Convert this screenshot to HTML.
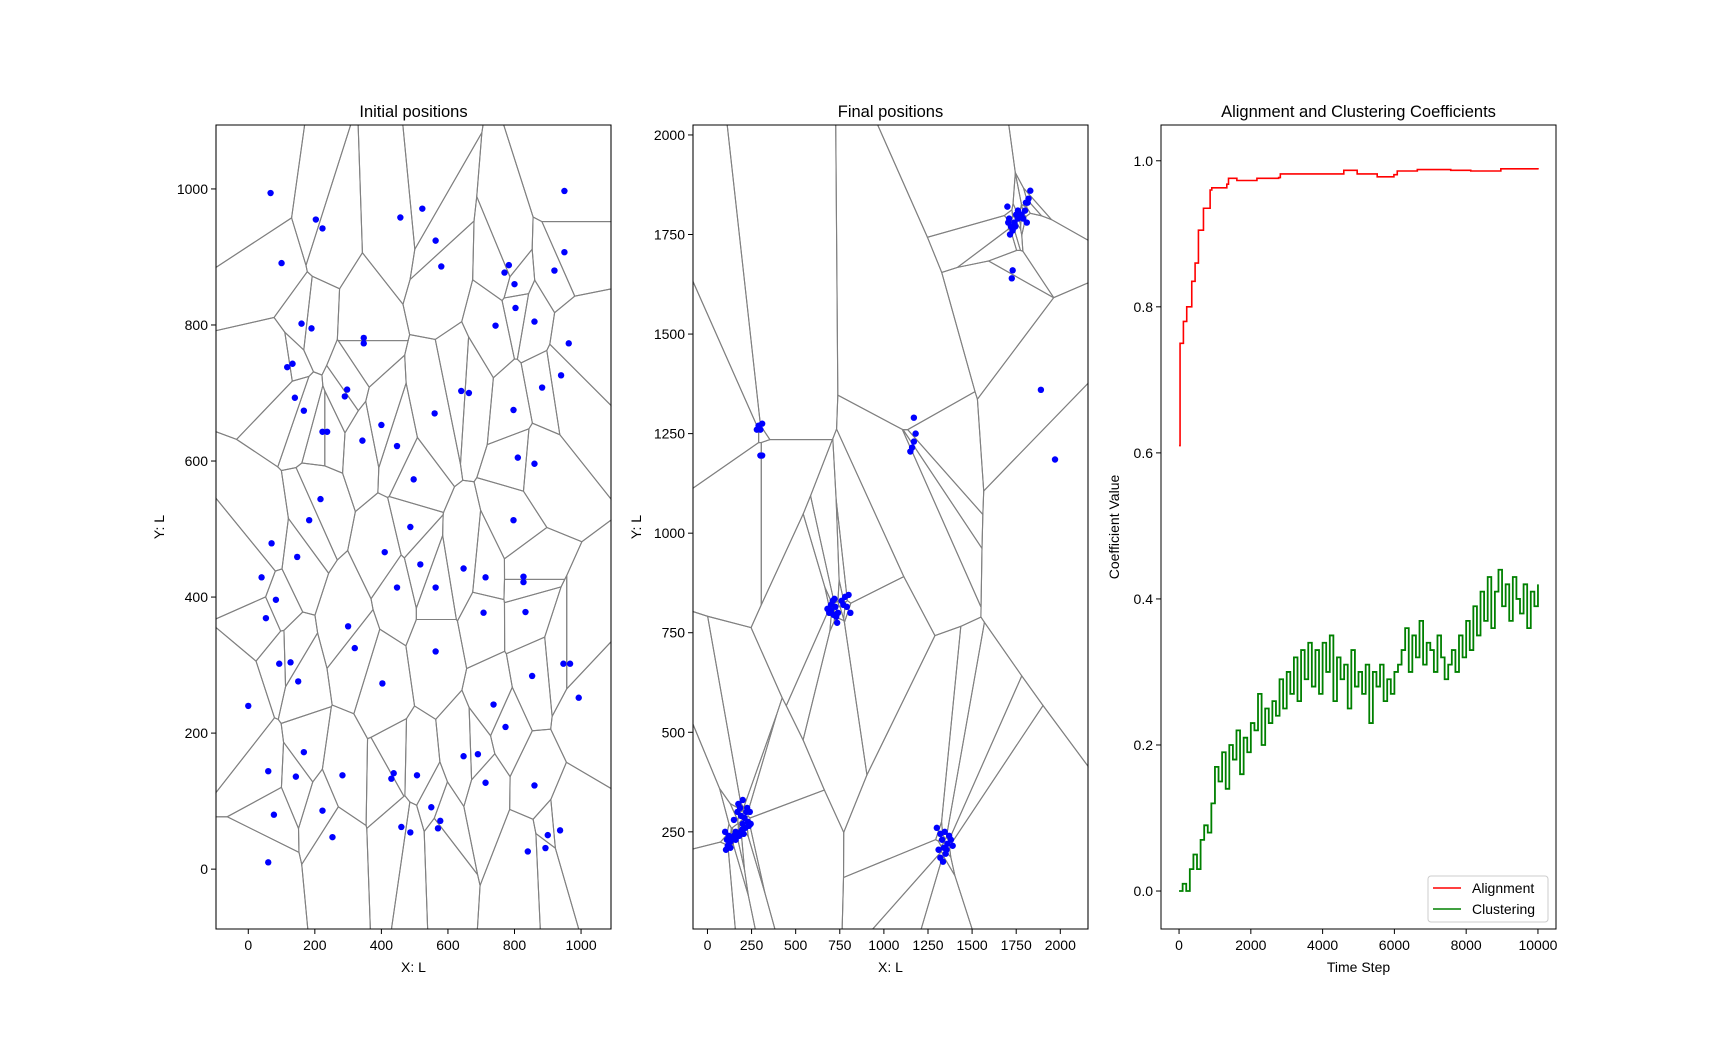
<!DOCTYPE html>
<html><head><meta charset="utf-8"><style>
html,body{margin:0;padding:0;background:#fff;overflow:hidden;width:1728px;height:1044px;}
svg{display:block;}
svg text{font-family:"Liberation Sans","DejaVu Sans",sans-serif;fill:#000;}
</style></head><body>
<svg id="fig" width="1728" height="1044" xmlns="http://www.w3.org/2000/svg"></svg>
<script>
// ---------- data ----------
const initialX=[67,203,223,457,523,563,580,950,950,100,783,770,800,920,160,190,347,347,803,743,860,963,133,117,940,297,290,140,167,640,663,560,797,883,400,343,447,223,237,810,860,497,217,183,797,487,70,147,410,517,647,713,827,827,447,563,40,83,707,833,53,300,320,93,127,150,563,403,853,947,967,993,0,737,773,60,167,143,283,437,430,507,647,690,713,860,77,223,253,460,487,550,577,570,937,900,893,840,60];
const initialY=[994,955,942,958,971,924,886,997,907,891,888,877,860,880,802,795,781,773,825,799,805,773,743,738,726,705,695,693,674,703,700,670,675,708,653,630,622,643,643,605,596,573,544,513,513,503,479,459,466,448,442,429,430,422,414,414,429,396,377,378,369,357,325,302,304,276,320,273,284,302,302,252,240,242,209,144,172,136,138,141,133,138,166,169,127,123,80,86,47,62,54,91,71,60,57,50,31,26,10];
const finalX=[100,110,115,105,120,130,140,150,160,170,175,185,190,200,195,205,210,220,225,230,235,200,180,160,130,215,240,245,190,150,
1300,1320,1330,1340,1310,1320,1335,1350,1360,1370,1380,1390,1345,1355,
680,690,700,710,720,730,735,740,700,760,780,800,790,810,770,725,715,
1700,1710,1720,1730,1715,1740,1750,1760,1770,1780,1790,1800,1805,1815,1830,1810,1760,1745,1725,1730,1705,1820,
290,300,310,280,300,310,1170,1180,1170,1160,1150,1890,1970];
const finalY=[250,230,215,205,240,225,235,280,250,300,320,310,290,270,255,245,285,300,310,275,265,330,240,230,210,260,300,270,250,240,
260,245,230,210,205,185,175,195,220,240,230,215,250,205,
810,800,820,830,835,790,775,800,805,830,840,845,815,800,820,815,795,
1820,1790,1770,1760,1750,1780,1800,1810,1795,1800,1790,1810,1830,1830,1860,1780,1790,1770,1640,1660,1780,1840,
1270,1260,1275,1260,1195,1195,1290,1250,1230,1215,1205,1360,1185];
const alignT=[0,28,121,214,354,447,540,680,866,912,1331,1378,1611,2170,2775,2822,3845,4590,4963,5521,5987,6080,6639,7570,8128,8966,10000];
const alignV=[0.61,0.75,0.78,0.80,0.835,0.86,0.905,0.935,0.96,0.963,0.968,0.976,0.973,0.976,0.977,0.982,0.982,0.987,0.982,0.978,0.981,0.986,0.988,0.987,0.986,0.989,0.988];
const clusterV=[0,0.01,0.0,0.03,0.05,0.03,0.07,0.09,0.08,0.12,0.17,
0.15,0.19,0.14,0.2,0.18,0.22,0.16,0.21,0.19,0.23,
0.22,0.27,0.2,0.25,0.23,0.26,0.24,0.29,0.25,0.30,
0.27,0.32,0.26,0.33,0.29,0.34,0.28,0.33,0.27,0.34,
0.30,0.35,0.26,0.32,0.29,0.31,0.25,0.33,0.28,0.30,
0.27,0.31,0.23,0.30,0.28,0.31,0.26,0.29,0.27,0.30,
0.31,0.33,0.36,0.30,0.35,0.32,0.37,0.31,0.34,0.33,
0.30,0.35,0.32,0.29,0.31,0.33,0.30,0.35,0.32,0.37,
0.33,0.39,0.35,0.41,0.37,0.43,0.36,0.41,0.44,0.39,
0.42,0.37,0.43,0.40,0.38,0.42,0.36,0.41,0.39,0.42];
const clusterStep=100;
const ticks1X=[0,200,400,600,800,1000], ticks1Y=[0,200,400,600,800,1000];
const ticks2X=[0,250,500,750,1000,1250,1500,1750,2000], ticks2Y=[250,500,750,1000,1250,1500,1750,2000];
const ticks3X=[0,2000,4000,6000,8000,10000], ticks3Y=[0,0.2,0.4,0.6,0.8,1.0];

// ---------- helpers ----------
const NS="http://www.w3.org/2000/svg", fig=document.getElementById('fig');
function mk(tag,attrs,parent,name,inter){const e=document.createElementNS(NS,tag);for(const k in attrs)e.setAttribute(k,attrs[k]);


(parent||fig).appendChild(e);return e;}
const TOP=125,BOT=929;
function axes(id,left,xl,yl){const right=left+395;
 return {id,left,right,xl,yl,sx:v=>left+(v-xl[0])/(xl[1]-xl[0])*395,sy:v=>BOT-(v-yl[0])/(yl[1]-yl[0])*(BOT-TOP)};}
function frame(a,title,xlab,ylab,tx,ty,fmt){
 const g=mk('g',{},fig,a.id+'-axes',false);
 mk('text',{x:(a.left+a.right)/2,y:117,'text-anchor':'middle','font-size':'16.5'},g,a.id+'-title',false).textContent=title;
 tx.forEach(t=>{const x=a.sx(t);mk('line',{x1:x,x2:x,y1:BOT,y2:BOT+5,stroke:'#000'},g,'x-tick',false);
  mk('text',{x:x,y:BOT+21,'text-anchor':'middle','font-size':'14'},g,'x-tick-label',false).textContent=fmt?fmt(t,'x'):t;});
 ty.forEach(t=>{const y=a.sy(t);mk('line',{x1:a.left-5,x2:a.left,y1:y,y2:y,stroke:'#000'},g,'y-tick',false);
  mk('text',{x:a.left-8,y:y+5,'text-anchor':'end','font-size':'14'},g,'y-tick-label',false).textContent=fmt?fmt(t,'y'):t;});
 mk('text',{x:(a.left+a.right)/2,y:972,'text-anchor':'middle','font-size':'14'},g,'x-axis-title',false).textContent=xlab;
 const lx=a.id==='coef'?a.left-42:a.left-52;
 mk('text',{x:lx,y:(TOP+BOT)/2,'text-anchor':'middle','font-size':'14',transform:`rotate(-90 ${lx} ${(TOP+BOT)/2})`},g,'y-axis-title',false).textContent=ylab;
 return g;}
function border(a){mk('rect',{x:a.left,y:TOP,width:a.right-a.left,height:BOT-TOP,fill:'none',stroke:'#000','stroke-width':1},fig,a.id+'-frame',false);}
function clipF(poly,f){const out=[];
 for(let i=0;i<poly.length;i++){const p=poly[i],q=poly[(i+1)%poly.length];const fp=f(p),fq=f(q);
  if(fp<=0)out.push(p);if((fp<0&&fq>0)||(fp>0&&fq<0)){const t=fp/(fp-fq);out.push([p[0]+t*(q[0]-p[0]),p[1]+t*(q[1]-p[1])]);}}
 return out;}
function clipPoly(poly,ax,ay,bx,by){const mx=(ax+bx)/2,my=(ay+by)/2,nx=bx-ax,ny=by-ay;
 return clipF(poly,p=>(p[0]-mx)*nx+(p[1]-my)*ny);}
function voronoi(a,X,Y){
 const g=mk('g',{},fig,a.id+'-voronoi',false);
 const [x0,x1]=a.xl,[y0,y1]=a.yl;
 for(let i=0;i<X.length;i++){let poly=[[x0,y0],[x1,y0],[x1,y1],[x0,y1]];
  for(let j=0;j<X.length&&poly.length;j++){if(j===i||(X[i]===X[j]&&Y[i]===Y[j]))continue;poly=clipPoly(poly,X[i],Y[i],X[j],Y[j]);}
  if(poly.length<3)continue;
  const pts=poly.map(p=>a.sx(p[0]).toFixed(2)+','+a.sy(p[1]).toFixed(2)).join(' ');
  mk('polygon',{points:pts,fill:'none',stroke:'#808080','stroke-width':1.1},g,'voronoi-cell',false);}
 X.forEach((x,i)=>mk('circle',{cx:a.sx(x),cy:a.sy(Y[i]),r:3.2,fill:'#0000ff'},g,'agent-point',false));}

// ---------- panel 1 ----------
const a1=axes('initial',216,[-97,1090],[-88,1094]);
frame(a1,'Initial positions','X: L','Y: L',ticks1X,ticks1Y);
voronoi(a1,initialX,initialY);border(a1);
// ---------- panel 2 ----------
const a2=axes('final',693,[-82,2157],[6,2025]);
frame(a2,'Final positions','X: L','Y: L',ticks2X,ticks2Y);
voronoi(a2,finalX,finalY);border(a2);
// ---------- panel 3 ----------
const a3=axes('coef',1161,[-503,10503],[-0.052,1.049]);
frame(a3,'Alignment and Clustering Coefficients','Time Step','Coefficient Value',ticks3X,ticks3Y,(t,ax)=>ax==='y'?t.toFixed(1):t);
function stepPath(T,V){let d='M'+a3.sx(T[0])+','+a3.sy(V[0]);for(let i=1;i<T.length;i++){d+=' H'+a3.sx(T[i]).toFixed(2)+' V'+a3.sy(V[i]).toFixed(2);}return d;}
const clusterT=clusterV.map((v,i)=>i*clusterStep);
mk('path',{d:stepPath(alignT,alignV),fill:'none',stroke:'#ff0000','stroke-width':1.6},fig,'alignment-line',false);
mk('path',{d:stepPath(clusterT,clusterV),fill:'none',stroke:'#008000','stroke-width':1.8},fig,'clustering-line',false);
border(a3);
const lg=mk('g',{},fig,'legend',false);
mk('rect',{x:1428,y:876,width:120,height:46,rx:3,fill:'#fff',stroke:'#ccc'},lg,'legend-box',false);
mk('line',{x1:1433,x2:1461,y1:888,y2:888,stroke:'#ff0000','stroke-width':1.6},lg,'legend-alignment-swatch',false);
mk('text',{x:1472,y:893,'font-size':'14'},lg,'legend-alignment-label',false).textContent='Alignment';
mk('line',{x1:1433,x2:1461,y1:909,y2:909,stroke:'#008000','stroke-width':1.6},lg,'legend-clustering-swatch',false);
mk('text',{x:1472,y:914,'font-size':'14'},lg,'legend-clustering-label',false).textContent='Clustering';
</script>
</body></html>
